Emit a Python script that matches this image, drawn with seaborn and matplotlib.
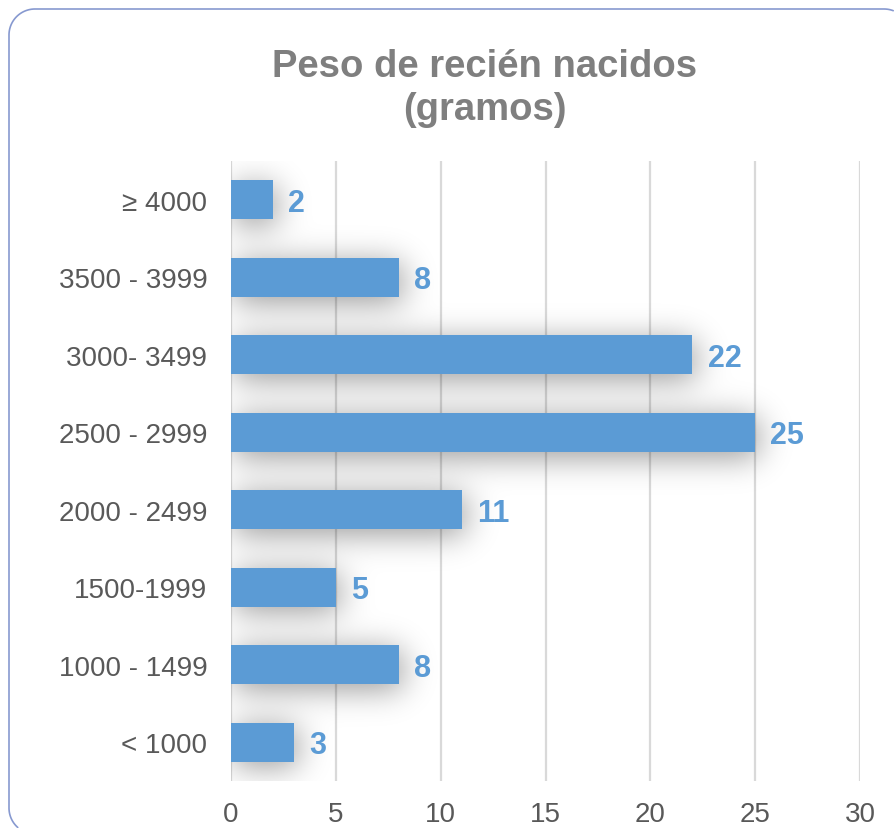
import numpy as np
import matplotlib
matplotlib.use("Agg")
import matplotlib.pyplot as plt
from matplotlib.lines import Line2D
import seaborn as sns

# Birth weight classes (grams) and number of newborns in each class
categories = ["≥ 4000", "3500 - 3999", "3000- 3499", "2500 - 2999",
              "2000 - 2499", "1500-1999", "1000 - 1499", "< 1000"]
counts = [2, 8, 22, 25, 11, 5, 8, 3]
x_ticks = [0, 5, 10, 15, 20, 25, 30]

BAR = "#5b9bd5"
GRID = "#d9d9d9"
TEXT = "#595959"
TITLE = "#7f7f7f"
FRAME = "#8799d0"

sns.set_style("white")
plt.rcParams["font.family"] = ["Liberation Sans", "DejaVu Sans"]

W, H, DPI = 894, 829, 100
fig = plt.figure(figsize=(W / DPI, H / DPI), dpi=DPI)

# rounded frame around the chart area; its right and bottom sides run past
# the canvas, so only the visible part of the outline is traced (pixels, y down)
left, top, right, bottom, r = 9, 10, 910, 835, 26
def arc(cx, cy, t0, t1, n=40):
    t = np.radians(np.linspace(t0, t1, n))
    return np.c_[cx + r * np.cos(t), cy + r * np.sin(t)]
outline = np.vstack([
    arc(left + r, bottom - r, 90, 180),
    arc(left + r, top + r, 180, 270),
    arc(right - r, top + r, 270, 360),
])
outline = outline[(outline[:, 0] <= W - 0.5) & (outline[:, 1] <= H - 0.5)]
fig.add_artist(Line2D(outline[:, 0] / DPI, (H - outline[:, 1]) / DPI,
                      transform=fig.dpi_scale_trans, color=FRAME, lw=1.2,
                      solid_joinstyle="round", zorder=-1))

ax_l, ax_r, ax_t, ax_b = 231, 860, 162, 782
ax = fig.add_axes([ax_l / W, 1 - ax_b / H, (ax_r - ax_l) / W, (ax_b - ax_t) / H])
ax.set_facecolor("none")

sns.barplot(x=counts, y=categories, orient="h", color=BAR, width=0.5,
            saturation=1, linewidth=0, edgecolor="none", ax=ax, zorder=3)

ax.set_xlim(0, 30)
ax.set_ylim(len(categories) - 0.5, -0.5)
ax.set_xticks(x_ticks)
ax.set_xlabel("")
ax.set_ylabel("")
for s in ax.spines.values():
    s.set_visible(False)
ax.grid(False)
for xv in x_ticks:
    ax.axvline(xv, color=GRID, lw=1.6, zorder=1)
ax.tick_params(axis="both", length=0, labelsize=20, labelcolor=TEXT)
ax.tick_params(axis="y", pad=17)
ax.tick_params(axis="x", pad=14.5)

# soft shadow under the bars: blurred bar silhouettes shown as an image
nx, ny = ax_r - ax_l, ax_b - ax_t
xs = np.linspace(0, 30, nx)
ys = np.linspace(-0.5, len(categories) - 0.5, ny)
mask = np.zeros((ny, nx))
for p in ax.patches:
    x0, y0 = p.get_x(), p.get_y()
    x1, y1 = x0 + p.get_width(), y0 + p.get_height()
    mask[np.ix_((ys >= y0) & (ys <= y1), (xs >= x0) & (xs <= x1))] = 1.0

sigma = 16
k = np.arange(-4 * sigma, 4 * sigma + 1)
kern = np.exp(-0.5 * (k / sigma) ** 2)
kern /= kern.sum()
pad = 4 * sigma
m = np.pad(mask, pad)
m = np.apply_along_axis(lambda row: np.convolve(row, kern, mode="same"), 1, m)
m = np.apply_along_axis(lambda col: np.convolve(col, kern, mode="same"), 0, m)
# shift slightly down and to the right
dy, dx = 5, 3
m = m[pad - dy:pad - dy + ny, pad - dx:pad - dx + nx]
shadow = np.zeros((ny, nx, 4))
shadow[..., 3] = np.clip(m, 0, 1) * 0.42
ax.imshow(shadow, extent=(0, 30, len(categories) - 0.5, -0.5), origin="upper",
          aspect="auto", interpolation="bilinear", zorder=2)
ax.set_xlim(0, 30)
ax.set_ylim(len(categories) - 0.5, -0.5)

# value labels
for i, v in enumerate(counts):
    ax.annotate(str(v), xy=(v, i), xytext=(11, -2), textcoords="offset points",
                ha="left", va="center", fontsize=22, fontweight="bold",
                color=BAR, zorder=4)

fig.text(485 / W, 1 - 49 / H, "Peso de recién nacidos\n(gramos)",
         ha="center", va="top", fontsize=27.5, fontweight="bold",
         color=TITLE, linespacing=1.26)

fig.savefig("out.png", dpi=DPI)
